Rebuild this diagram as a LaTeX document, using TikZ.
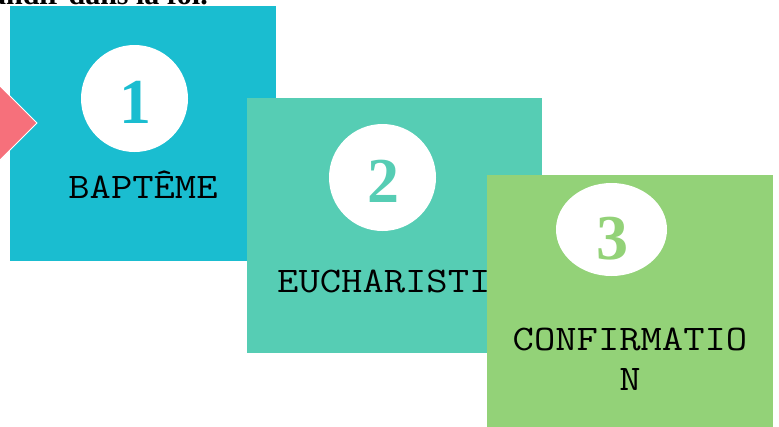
\documentclass[tikz,border=0pt]{standalone}
\usepackage{fontspec}
\setmainfont{Liberation Serif}
\newfontfamily\sacmono[FakeStretch=1.15]{Latin Modern Mono}
\usetikzlibrary{calc, shapes.geometric, positioning}
\newcommand\sacblock[5]{\fill[fill=#5] (#1,#2) rectangle (#3,#4);}
\definecolor{sacbleu}{RGB}{26,189,208}
\definecolor{sacvert}{RGB}{86,205,180}
\definecolor{saclime}{RGB}{147,210,120}
\definecolor{sacrose}{RGB}{246,112,123}
\tikzset{
  rond/.style={circle, fill=white, inner sep=0pt, minimum size=107pt},
  chiffre/.style={inner sep=0pt, font=\bfseries\fontsize{64}{70}\selectfont},
  sacnom/.style={inner sep=0pt, anchor=base, align=center, font=\sacmono\fontsize{36}{40}\selectfont}
}

\begin{document}
\begin{tikzpicture}[x=1pt, y=-1pt]
\useasboundingbox (0,0) rectangle (779,426);
\node[anchor=base east, inner sep=0pt, font=\bfseries\fontsize{30}{34}\selectfont] (titre) at (208,4) {grandir dans la foi.};

% bapteme
\sacblock{10}{6}{276}{261}{sacbleu}
\fill[sacrose, draw=white, line width=0.8pt] (37,123) -- (-15,71) -- (-67,123) -- (-15,175) -- cycle;
\node[rond] (rond1) at (134.5,98.5) {};
\node[chiffre, text=sacbleu] (num1) at (135,102) {1};
\node[sacnom] (nom1) at (143,198) {BAPTÊME};

% eucharistie
\sacblock{247}{98}{542}{353}{sacvert}
\node[rond] (rond2) at (382.5,177.5) {};
\node[chiffre, text=sacvert] (num2) at (383,181) {2};
\node[sacnom] (nom2) at (394.5,292) {EUCHARISTIE};

% confirmation
\sacblock{487}{175}{773}{430}{saclime}
\node[ellipse, fill=white, inner sep=0pt, minimum width=111pt, minimum height=93pt] (rond3) at (611.5,229.5) {};
\node[chiffre, text=saclime] (num3) at (612,238.5) {3};
\node[sacnom] (nom3) at (630,390) {CONFIRMATIO\\N};

\end{tikzpicture}
\end{document}
